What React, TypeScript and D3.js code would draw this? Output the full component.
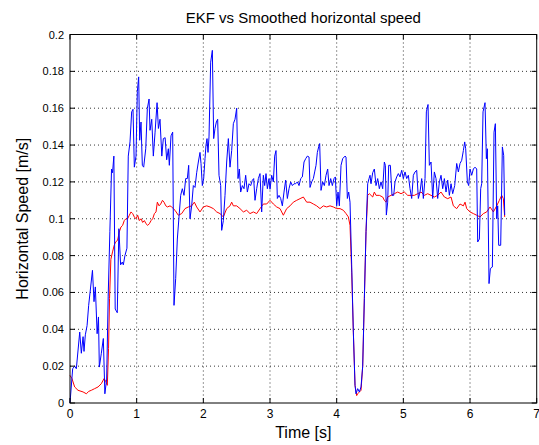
import React from "react";
import * as d3 from "d3";

const ekfTime = [0,0.04,0.07,0.095,0.146,0.17,0.196,0.21,0.23,0.256,0.28,0.337,0.36,0.38,0.407,0.427,0.44,0.47,0.5,0.523,0.55,0.573,0.598,0.623,0.638,0.658,0.678,0.709,0.733,0.759,0.784,0.8,0.824,0.854,0.874,0.9,0.925,0.945,0.965,0.99,1.01,1.03,1.045,1.065,1.085,1.105,1.136,1.16,1.186,1.2,1.226,1.25,1.276,1.306,1.326,1.35,1.377,1.4,1.427,1.45,1.475,1.49,1.515,1.54,1.56,1.585,1.61,1.635,1.66,1.685,1.71,1.735,1.76,1.78,1.8,1.825,1.85,1.875,1.9,1.925,1.95,1.965,1.985,2.005,2.025,2.04,2.055,2.07,2.085,2.11,2.135,2.155,2.175,2.195,2.215,2.235,2.26,2.275,2.3,2.325,2.35,2.375,2.4,2.425,2.45,2.475,2.5,2.52,2.54,2.56,2.585,2.61,2.635,2.66,2.685,2.71,2.735,2.755,2.775,2.8,2.825,2.85,2.875,2.9,2.92,2.94,2.96,2.985,3.0,3.025,3.05,3.07,3.09,3.11,3.135,3.16,3.185,3.21,3.235,3.26,3.285,3.31,3.335,3.36,3.385,3.41,3.435,3.46,3.485,3.51,3.535,3.56,3.585,3.6,3.625,3.65,3.67,3.69,3.71,3.73,3.745,3.765,3.79,3.815,3.84,3.865,3.885,3.91,3.935,3.96,3.98,4.0,4.02,4.04,4.065,4.09,4.125,4.14,4.16,4.18,4.2,4.225,4.25,4.275,4.29,4.315,4.34,4.365,4.39,4.415,4.44,4.465,4.485,4.5,4.515,4.54,4.565,4.59,4.615,4.64,4.665,4.69,4.715,4.73,4.745,4.765,4.78,4.805,4.83,4.855,4.875,4.9,4.925,4.95,4.975,5.0,5.025,5.05,5.075,5.1,5.125,5.15,5.175,5.2,5.225,5.25,5.275,5.3,5.325,5.345,5.37,5.39,5.415,5.44,5.465,5.49,5.515,5.54,5.565,5.59,5.615,5.64,5.665,5.69,5.715,5.74,5.77,5.8,5.825,5.85,5.875,5.9,5.92,5.935,5.96,5.98,6.0,6.025,6.05,6.075,6.1,6.115,6.14,6.16,6.175,6.195,6.225,6.245,6.26,6.285,6.305,6.335,6.36,6.38,6.4,6.415,6.43,6.46,6.485,6.505,6.52];
const ekfSpeed = [0,0.0186,0.02,0.0186,0.0385,0.027,0.036,0.028,0.037,0.042,0.053,0.072,0.055,0.063,0.0376,0.0467,0.0195,0.027,0.035,0.005,0.013,0.058,0.093,0.127,0.125,0.134,0.051,0.049,0.0946,0.075,0.0765,0.075,0.08,0.084,0.134,0.1417,0.158,0.1594,0.128,0.134,0.169,0.177,0.1426,0.1525,0.129,0.128,0.138,0.1598,0.165,0.148,0.154,0.134,0.147,0.163,0.149,0.154,0.134,0.1435,0.144,0.132,0.138,0.129,0.145,0.147,0.053,0.0675,0.089,0.101,0.1127,0.1163,0.1127,0.1218,0.1218,0.129,0.1,0.107,0.118,0.117,0.125,0.1308,0.136,0.13,0.118,0.1218,0.1326,0.14,0.1435,0.136,0.1444,0.185,0.1914,0.1435,0.149,0.1525,0.154,0.1236,0.118,0.0937,0.099,0.1127,0.1308,0.1435,0.128,0.137,0.1516,0.154,0.16,0.1218,0.127,0.1145,0.118,0.1163,0.1236,0.1145,0.119,0.118,0.1209,0.1218,0.11,0.1163,0.1218,0.1245,0.1037,0.1236,0.118,0.1245,0.1163,0.1218,0.116,0.1236,0.12,0.134,0.137,0.111,0.1127,0.111,0.107,0.1145,0.121,0.111,0.1163,0.12,0.118,0.119,0.119,0.12,0.118,0.1218,0.1227,0.1308,0.1326,0.134,0.1335,0.117,0.12,0.1218,0.1254,0.129,0.136,0.139,0.1408,0.1154,0.12,0.118,0.1236,0.127,0.118,0.1218,0.118,0.1218,0.1227,0.107,0.1145,0.107,0.129,0.1326,0.134,0.1335,0.111,0.1145,0.109,0.075,0.0385,0.0096,0.005,0.0078,0.006,0.0087,0.02,0.0566,0.093,0.119,0.1218,0.1236,0.119,0.125,0.127,0.118,0.1218,0.1163,0.12,0.1163,0.1308,0.129,0.102,0.109,0.129,0.129,0.1127,0.1127,0.12,0.1227,0.1245,0.1227,0.1263,0.1218,0.1254,0.1218,0.1236,0.1163,0.111,0.1236,0.1254,0.1263,0.111,0.1145,0.1218,0.111,0.1218,0.158,0.162,0.129,0.1308,0.111,0.1254,0.1218,0.111,0.12,0.1236,0.1163,0.1218,0.1145,0.121,0.1127,0.119,0.1136,0.118,0.13,0.1254,0.13,0.1317,0.137,0.1417,0.138,0.12,0.118,0.127,0.1236,0.127,0.128,0.127,0.0874,0.089,0.1163,0.119,0.158,0.163,0.1326,0.138,0.0648,0.073,0.0738,0.147,0.1516,0.1,0.107,0.0856,0.0856,0.139,0.1344,0.102];

const smoothTime = [0,0.03,0.07,0.12,0.196,0.246,0.28,0.32,0.37,0.42,0.47,0.51,0.53,0.56,0.578,0.593,0.613,0.638,0.663,0.683,0.714,0.739,0.764,0.789,0.814,0.839,0.864,0.89,0.915,0.94,0.965,0.99,1.015,1.04,1.065,1.09,1.116,1.14,1.166,1.19,1.216,1.24,1.266,1.29,1.31,1.336,1.36,1.387,1.41,1.437,1.462,1.5,1.525,1.575,1.625,1.675,1.725,1.775,1.825,1.865,1.9,1.95,2.0,2.05,2.1,2.15,2.2,2.25,2.3,2.35,2.4,2.425,2.45,2.5,2.55,2.6,2.65,2.7,2.75,2.8,2.85,2.9,2.95,3.0,3.05,3.1,3.15,3.2,3.25,3.3,3.35,3.4,3.45,3.5,3.55,3.6,3.65,3.7,3.75,3.8,3.85,3.9,3.95,4.0,4.05,4.1,4.14,4.175,4.2,4.225,4.25,4.275,4.3,4.315,4.365,4.39,4.415,4.44,4.465,4.49,4.515,4.54,4.565,4.59,4.64,4.69,4.715,4.74,4.765,4.815,4.865,4.915,4.965,5.015,5.065,5.115,5.165,5.215,5.265,5.315,5.365,5.415,5.465,5.515,5.565,5.615,5.665,5.715,5.75,5.8,5.85,5.9,5.925,5.95,6.0,6.05,6.1,6.15,6.2,6.25,6.3,6.35,6.4,6.44,6.475,6.5,6.52];
const smoothSpeed = [0.015,0.0132,0.0087,0.0069,0.006,0.005,0.0063,0.0069,0.0078,0.0087,0.0105,0.0132,0.0123,0.0096,0.0295,0.0566,0.078,0.082,0.0856,0.0874,0.0883,0.0928,0.0955,0.0964,0.099,0.1,0.1,0.1019,0.1037,0.1028,0.101,0.1,0.1019,0.099,0.1,0.098,0.099,0.0973,0.0964,0.0973,0.099,0.1,0.1028,0.1037,0.109,0.107,0.108,0.11,0.109,0.107,0.1064,0.107,0.1064,0.1046,0.1019,0.1028,0.1055,0.1064,0.107,0.109,0.1064,0.1037,0.1064,0.107,0.1064,0.1055,0.1037,0.1028,0.101,0.1055,0.107,0.109,0.107,0.107,0.1055,0.1037,0.1046,0.1028,0.1037,0.1028,0.1055,0.108,0.108,0.11,0.108,0.1064,0.1055,0.1019,0.1055,0.107,0.109,0.11,0.1109,0.1118,0.109,0.109,0.108,0.107,0.1055,0.107,0.1064,0.107,0.1064,0.1055,0.1055,0.1046,0.1028,0.101,0.0964,0.071,0.0385,0.0096,0.004,0.005,0.0069,0.02,0.0566,0.093,0.1127,0.1136,0.1127,0.1118,0.1145,0.1127,0.1127,0.1118,0.11,0.109,0.1118,0.1127,0.1136,0.1145,0.1136,0.1145,0.1127,0.1127,0.1127,0.1136,0.1145,0.1127,0.1136,0.1127,0.1118,0.1127,0.1145,0.1118,0.1109,0.1118,0.107,0.1055,0.108,0.107,0.109,0.1055,0.1037,0.1028,0.1019,0.101,0.1028,0.1037,0.1064,0.1037,0.107,0.11,0.1127,0.1109,0.101];

const xTicks = [0, 1, 2, 3, 4, 5, 6, 7];
const yTicks = [0, 0.02, 0.04, 0.06, 0.08, 0.1, 0.12, 0.14, 0.16, 0.18, 0.2];
const yTickLabels = ["0", "0.02", "0.04", "0.06", "0.08", "0.1", "0.12", "0.14", "0.16", "0.18", "0.2"];

const W = 539, H = 445;
const L = 70, R = 536.7, T = 34.5, B = 403;
const FONT = "'Liberation Sans', Arial, Helvetica, sans-serif";

export default function App() {
  const x = d3.scaleLinear().domain([0, 7]).range([L, R]);
  const y = d3.scaleLinear().domain([0, 0.2]).range([B, T]);
  const line = d3.line<[number, number]>().x(d => x(d[0])).y(d => y(d[1]));
  const ekf = ekfTime.map((t, i) => [t, ekfSpeed[i]] as [number, number]);
  const sm = smoothTime.map((t, i) => [t, smoothSpeed[i]] as [number, number]);
  const tl = 5;
  return (
    <svg width={W} height={H} style={{ position: "absolute", left: 0, top: 0, background: "#fff" }} fontFamily={FONT}>
      <rect x={0} y={0} width={W} height={H} fill="#fff" />
      {xTicks.slice(1, -1).map(t => (
        <line key={"gx" + t} x1={x(t)} x2={x(t)} y1={T} y2={B} stroke="#000" strokeWidth={0.8} strokeDasharray="1,3" />
      ))}
      {yTicks.slice(1, -1).map(v => (
        <line key={"gy" + v} x1={L} x2={R} y1={y(v)} y2={y(v)} stroke="#000" strokeWidth={0.8} strokeDasharray="1,3" />
      ))}
      <path d={line(sm) || ""} fill="none" stroke="#ff0000" strokeWidth={1} />
      <path d={line(ekf) || ""} fill="none" stroke="#0000ff" strokeWidth={1} />
      <rect x={L} y={T} width={R - L} height={B - T} fill="none" stroke="#000" strokeWidth={1} />
      {xTicks.map(t => (
        <g key={"tx" + t}>
          <line x1={x(t)} x2={x(t)} y1={B} y2={B - tl} stroke="#000" />
          <line x1={x(t)} x2={x(t)} y1={T} y2={T + tl} stroke="#000" />
          <text x={x(t)} y={B + 15} textAnchor="middle" fontSize={12} fill="#000">{t}</text>
        </g>
      ))}
      {yTicks.map((v, i) => (
        <g key={"ty" + v}>
          <line x1={L} x2={L + tl} y1={y(v)} y2={y(v)} stroke="#000" />
          <line x1={R} x2={R - tl} y1={y(v)} y2={y(v)} stroke="#000" />
          <text x={L - 6} y={y(v) + 4} textAnchor="end" fontSize={11} fill="#000">{yTickLabels[i]}</text>
        </g>
      ))}
      <text x={(L + R) / 2} y={23} textAnchor="middle" fontSize={15} fill="#000">EKF vs Smoothed horizontal speed</text>
      <text x={(L + R) / 2} y={438} textAnchor="middle" fontSize={16} fill="#000">Time [s]</text>
      <text transform={`translate(28,${(T + B) / 2}) rotate(-90)`} textAnchor="middle" fontSize={16} fill="#000">Horizontal Speed [m/s]</text>
    </svg>
  );
}
